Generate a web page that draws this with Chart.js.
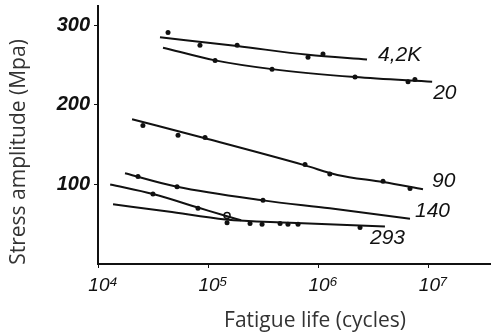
<!DOCTYPE html>
<html>
<head>
<meta charset="utf-8">
<script src="https://cdn.jsdelivr.net/npm/chart.js@4.4.0/dist/chart.umd.min.js"></script>
<style>
  html, body { margin: 0; padding: 0; background: #fff; }
  #wrap { width: 497px; height: 334px; }
</style>
</head>
<body>
<div id="wrap"><canvas id="grafico" width="497" height="334"></canvas></div>
<script>
// --- dados (ciclos, MPa) ---
const xTicks = [1e4, 1e5, 1e6, 1e7];
const xTickLabels = ['10\u2074', '10\u2075', '10\u2076', '10\u2077'];
const yTicks = [100, 200, 300];
const seriesNames = ['4,2K', '20', '90', '140', '', '293'];

// curvas ajustadas
const fit42K = [[36600, 285], [184000, 274], [811000, 263], [2790000, 257]];
const fit20 = [[39000, 272], [116000, 256], [382000, 245], [2170000, 235], [10900000, 229]];
const fit90 = [[20400, 182], [94000, 158], [762000, 124], [1500000, 112], [3900000, 103], [9000000, 94]];
const fit140 = [[17600, 114], [52300, 97], [316000, 80], [1280000, 70], [6860000, 57]];
const fitUpper = [[12900, 100], [31600, 88], [81100, 71], [149000, 60], [200000, 55]];
const fit293 = [[13700, 75], [43300, 66], [144000, 56], [556000, 52], [4060000, 47]];

// pontos de ensaio
const pts42K = [[43300, 291], [84500, 275], [184000, 275], [811000, 260], [1110000, 264]];
const pts20 = [[116000, 256], [382000, 245], [2170000, 235], [6580000, 229], [7600000, 232]];
const pts90 = [[25600, 174], [53400, 162], [94000, 159], [762000, 125], [1280000, 113], [3900000, 104], [6860000, 95]];
const pts140 = [[23100, 110], [52300, 97], [316000, 80]];
const ptsUpper = [[31600, 88], [81100, 70]];
const ptsOpen = [[149000, 61]];
const pts293 = [[149000, 52], [241000, 51], [310000, 50], [452000, 51], [533000, 50], [658000, 50], [2410000, 46]];

const fits = [fit42K, fit20, fit90, fit140, fitUpper, fit293];
const pts = [pts42K, pts20, pts90, pts140, ptsUpper, pts293];

const toXY = arr => arr.map(p => ({ x: p[0], y: p[1] }));
const tinta = '#111';

const datasets = [];
fits.forEach((f, i) => {
  datasets.push({
    type: 'line', label: seriesNames[i], data: toXY(f),
    borderColor: tinta, borderWidth: 2, pointRadius: 0,
    cubicInterpolationMode: 'monotone', fill: false
  });
});
pts.forEach(p => {
  datasets.push({
    type: 'scatter', data: toXY(p),
    pointRadius: 2.5, pointBackgroundColor: tinta, pointBorderColor: tinta, pointBorderWidth: 0
  });
});
datasets.push({
  type: 'scatter', data: toXY(ptsOpen),
  pointRadius: 3, pointBackgroundColor: '#fff', pointBorderColor: tinta, pointBorderWidth: 1.5
});

// rótulos das curvas e títulos dos eixos
const labelOffsets = [[11, -4], [1, 11], [9, -8], [5, -8], null, [-15, 12]];
const rotulos = {
  id: 'rotulos',
  afterDraw(chart) {
    const { ctx, scales } = chart;
    ctx.save();
    ctx.fillStyle = tinta;
    ctx.font = 'italic 21px "Liberation Sans", sans-serif';
    ctx.textAlign = 'left';
    ctx.textBaseline = 'middle';
    fits.forEach((f, i) => {
      if (!labelOffsets[i]) return;
      const last = f[f.length - 1];
      const px = scales.x.getPixelForValue(last[0]) + labelOffsets[i][0];
      const py = scales.y.getPixelForValue(last[1]) + labelOffsets[i][1];
      ctx.fillText(seriesNames[i], px, py);
    });
    ctx.fillStyle = '#333';
    ctx.font = '21px "Open Sans", sans-serif';
    ctx.textAlign = 'center';
    ctx.fillText('Fatigue life (cycles)', 315, 321);
    ctx.translate(19, 152);
    ctx.rotate(-Math.PI / 2);
    ctx.fillText('Stress amplitude (Mpa)', 0, 0);
    ctx.restore();
  }
};

const ctx = document.getElementById('grafico').getContext('2d');
new Chart(ctx, {
  data: { datasets },
  plugins: [rotulos],
  options: {
    responsive: false,
    animation: false,
    layout: { padding: { left: 0, top: 4, right: 7, bottom: 0 } },
    plugins: { legend: { display: false }, tooltip: { enabled: false } },
    scales: {
      x: {
        type: 'logarithmic', min: 1e4, max: 3.66e7,
        afterBuildTicks: s => { s.ticks = xTicks.map(v => ({ value: v })); },
        afterFit: s => { s.height = 70; s.paddingLeft = 0; s.paddingRight = 0; },
        border: { display: true, color: tinta, width: 2 },
        grid: { drawOnChartArea: false, tickLength: 4, color: tinta },
        ticks: {
          color: tinta, padding: 6, maxRotation: 0, autoSkip: false, labelOffset: 5,
          font: { family: '"Liberation Sans", sans-serif', size: 19, style: 'italic' },
          callback: (v, i) => xTickLabels[i]
        }
      },
      y: {
        type: 'linear', min: 0, max: 325,
        afterBuildTicks: s => { s.ticks = yTicks.map(v => ({ value: v })); },
        afterFit: s => { s.width = 98; s.paddingTop = 0; s.paddingBottom = 0; },
        border: { display: true, color: tinta, width: 2 },
        grid: { drawOnChartArea: false, tickLength: 4, color: tinta },
        ticks: {
          color: tinta, padding: 4,
          font: { family: '"Liberation Sans", sans-serif', size: 20, style: 'italic', weight: 'bold' }
        }
      }
    }
  }
});
</script>
</body>
</html>
